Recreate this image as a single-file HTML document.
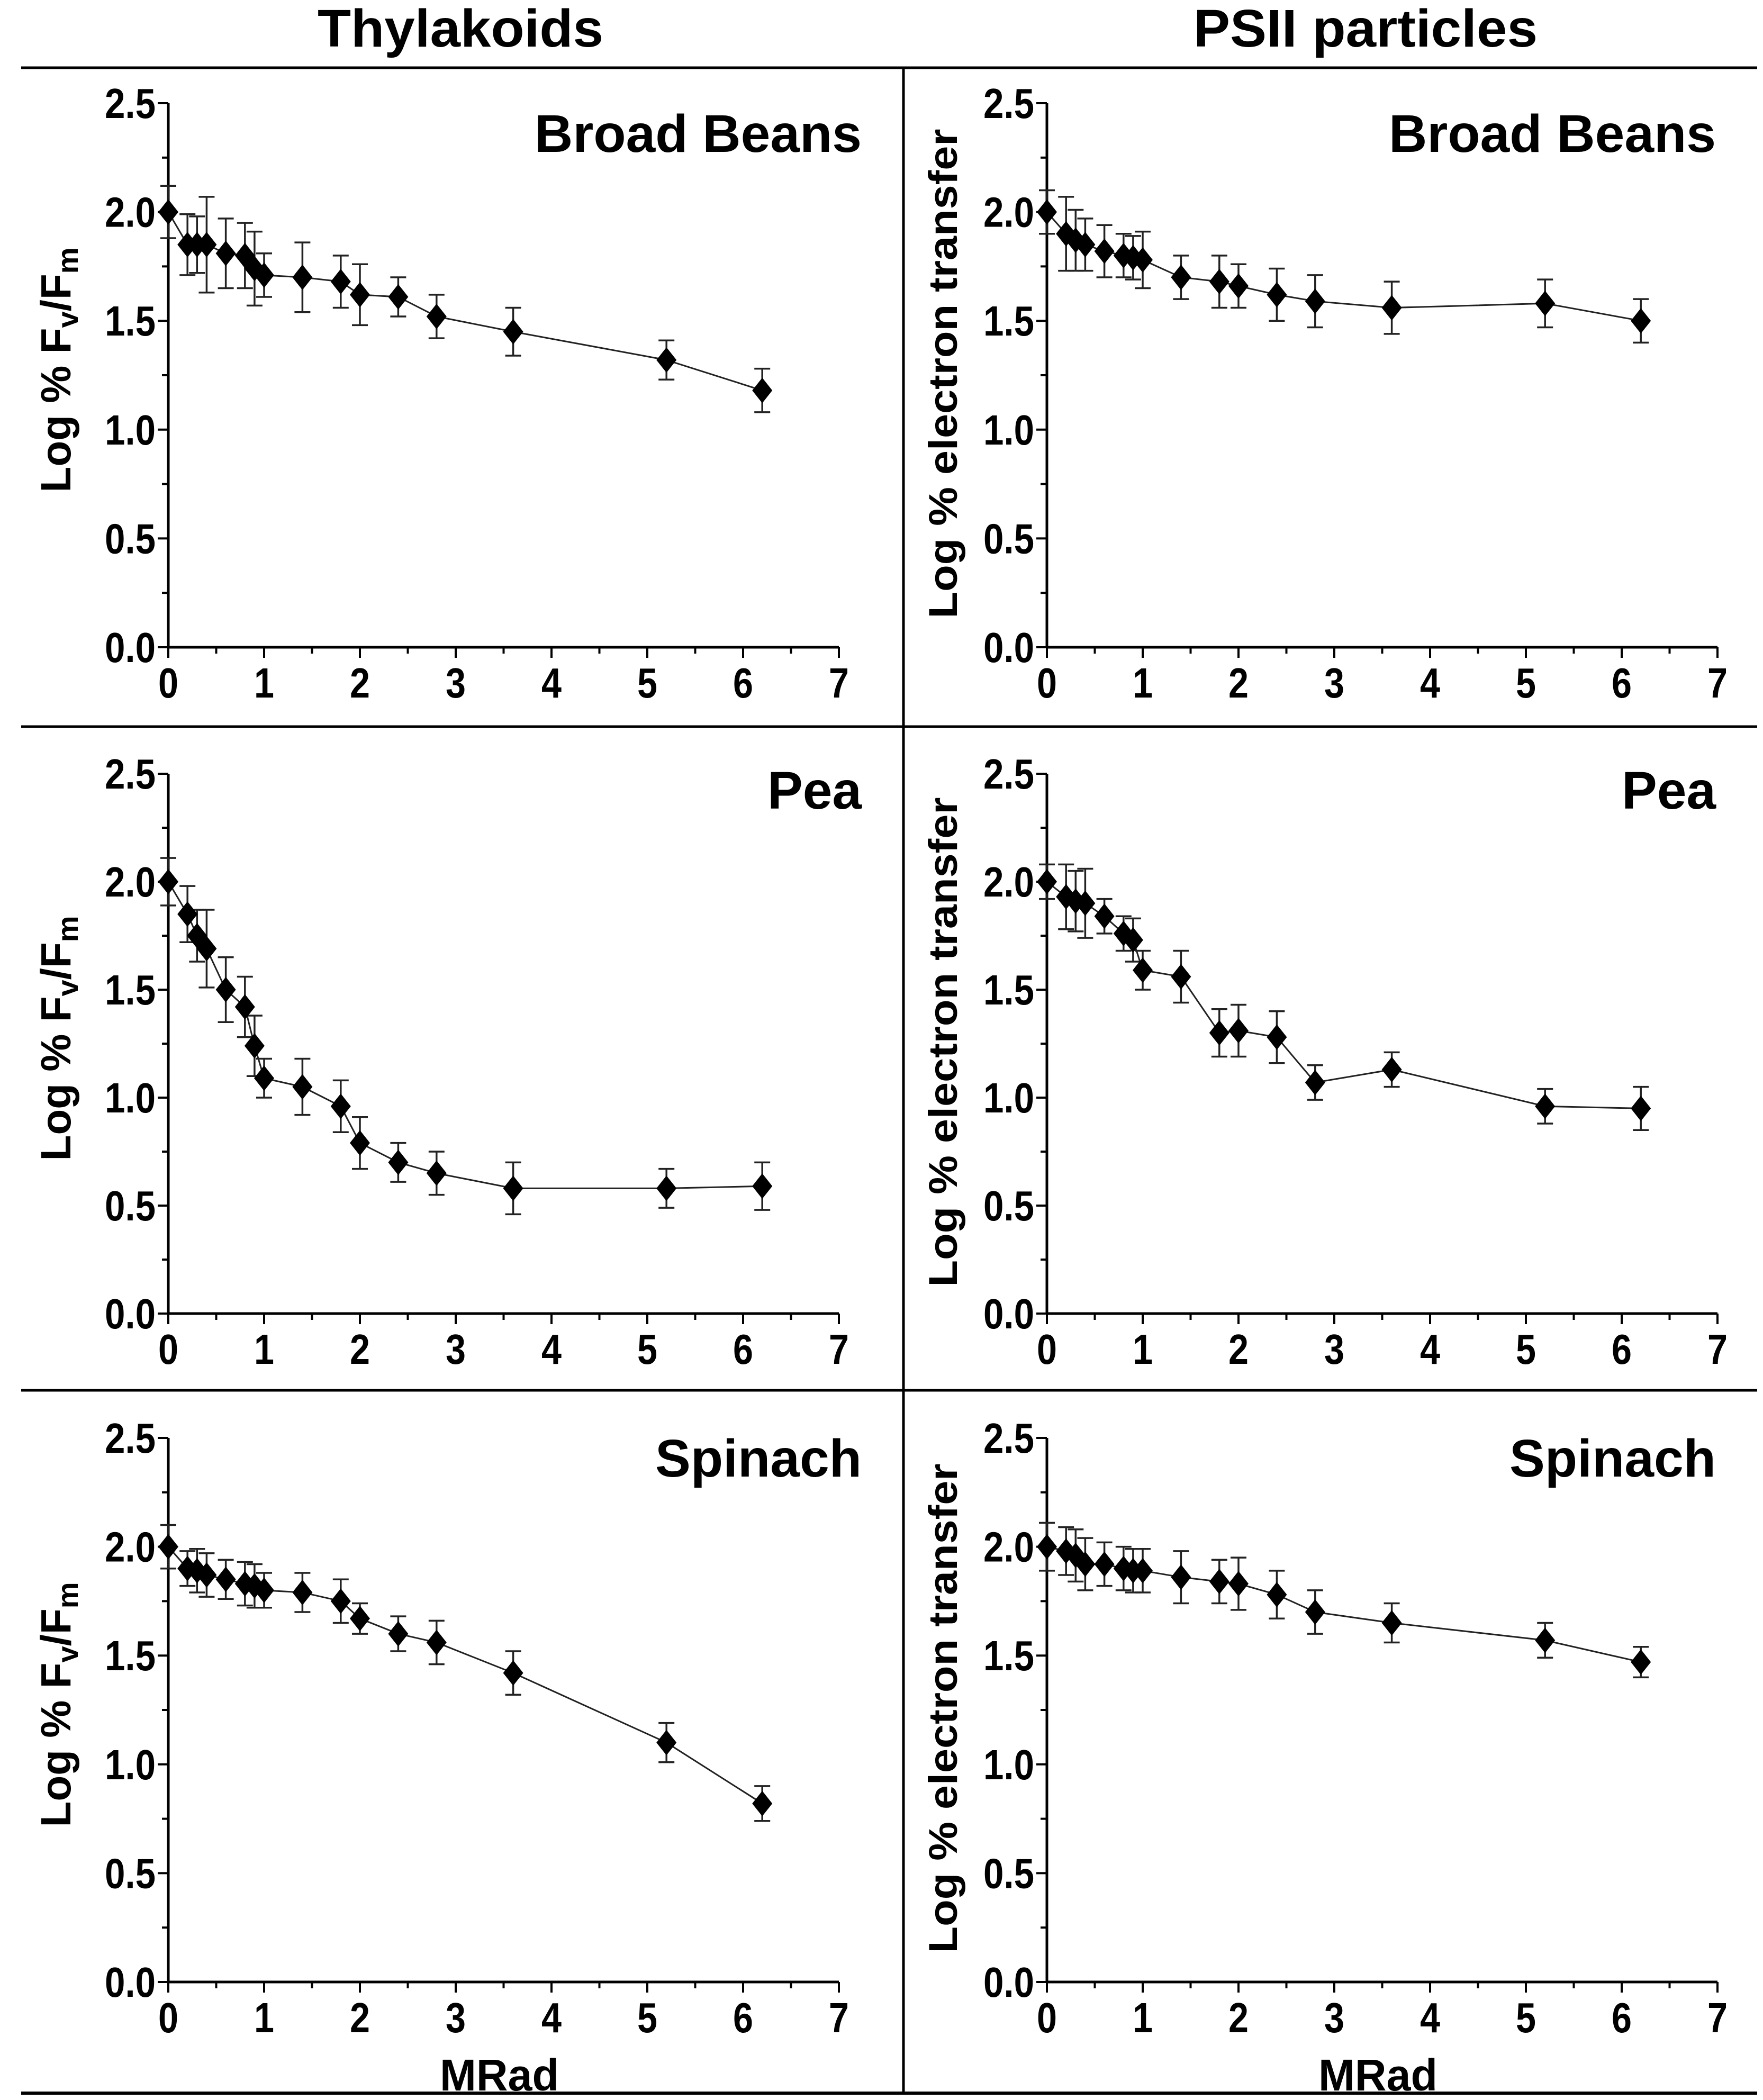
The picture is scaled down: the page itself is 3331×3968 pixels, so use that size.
<!DOCTYPE html>
<html><head><meta charset="utf-8"><style>
html,body{margin:0;padding:0;background:#fff;}
svg{display:block;font-family:"Liberation Sans",Arial,sans-serif;font-weight:bold;}
</style></head><body>
<svg id="fig" width="3331" height="3968" viewBox="0 0 3331 3968" xmlns="http://www.w3.org/2000/svg">
<rect width="3331" height="3968" fill="#fff"/>
<text x="870" y="88" font-size="100" text-anchor="middle" textLength="540" lengthAdjust="spacingAndGlyphs">Thylakoids</text>
<text x="2580" y="88" font-size="100" text-anchor="middle" textLength="650" lengthAdjust="spacingAndGlyphs">PSII particles</text>
<line x1="40" y1="128" x2="3320" y2="128" stroke="#000" stroke-width="5"/>
<line x1="40" y1="1373" x2="3320" y2="1373" stroke="#000" stroke-width="5"/>
<line x1="40" y1="2627" x2="3320" y2="2627" stroke="#000" stroke-width="5"/>
<line x1="40" y1="3955" x2="3320" y2="3955" stroke="#000" stroke-width="6"/>
<line x1="1707" y1="128" x2="1707" y2="3955" stroke="#000" stroke-width="5"/>
<g id="plots"></g>
</svg>
<script>
const doses = [0,0.2,0.3,0.4,0.6,0.8,0.9,1.0,1.4,1.8,2.0,2.4,2.8,3.6,5.2,6.2];
const xTicks = [0,1,2,3,4,5,6,7];
const yTicks = [0.0,0.5,1.0,1.5,2.0,2.5];
const yTickLabels = ["0.0","0.5","1.0","1.5","2.0","2.5"];
const thyBeanVals = [2.0,1.85,1.85,1.85,1.81,1.80,1.74,1.71,1.70,1.68,1.62,1.61,1.52,1.45,1.32,1.18];
const thyBeanErr  = [0.12,0.14,0.13,0.22,0.16,0.15,0.17,0.10,0.16,0.12,0.14,0.09,0.10,0.11,0.09,0.10];
const psiBeanVals = [2.0,1.90,1.87,1.85,1.82,1.80,1.79,1.78,1.70,1.68,1.66,1.62,1.59,1.56,1.58,1.50];
const psiBeanErr  = [0.10,0.17,0.14,0.12,0.12,0.10,0.10,0.13,0.10,0.12,0.10,0.12,0.12,0.12,0.11,0.10];
const thyPeaVals = [2.0,1.85,1.75,1.69,1.50,1.42,1.24,1.09,1.05,0.96,0.79,0.70,0.65,0.58,0.58,0.59];
const thyPeaErr  = [0.11,0.13,0.12,0.18,0.15,0.14,0.14,0.09,0.13,0.12,0.12,0.09,0.10,0.12,0.09,0.11];
const psiPeaVals = [2.0,1.93,1.91,1.90,1.84,1.76,1.73,1.59,1.56,1.30,1.31,1.28,1.07,1.13,0.96,0.95];
const psiPeaErr  = [0.08,0.15,0.14,0.16,0.08,0.08,0.10,0.09,0.12,0.11,0.12,0.12,0.08,0.08,0.08,0.10];
const thySpinVals = [2.0,1.90,1.89,1.87,1.85,1.83,1.82,1.80,1.79,1.75,1.67,1.60,1.56,1.42,1.10,0.82];
const thySpinErr  = [0.10,0.08,0.10,0.10,0.09,0.10,0.10,0.08,0.09,0.10,0.07,0.08,0.10,0.10,0.09,0.08];
const psiSpinVals = [2.0,1.98,1.96,1.92,1.92,1.90,1.89,1.89,1.86,1.84,1.83,1.78,1.70,1.65,1.57,1.47];
const psiSpinErr  = [0.11,0.11,0.12,0.12,0.10,0.10,0.10,0.10,0.12,0.10,0.12,0.11,0.10,0.09,0.08,0.07];

const NS="http://www.w3.org/2000/svg";
const root=document.getElementById('plots');
function mk(tag,attrs,parent){const e=document.createElementNS(NS,tag);for(const k in attrs)e.setAttribute(k,attrs[k]);(parent||root).appendChild(e);return e;}

const panels=[
 {id:'thylakoids-broad-beans',label:'Broad Beans',col:0,row:0,vals:thyBeanVals,err:thyBeanErr},
 {id:'psii-broad-beans',label:'Broad Beans',col:1,row:0,vals:psiBeanVals,err:psiBeanErr},
 {id:'thylakoids-pea',label:'Pea',col:0,row:1,vals:thyPeaVals,err:thyPeaErr},
 {id:'psii-pea',label:'Pea',col:1,row:1,vals:psiPeaVals,err:psiPeaErr},
 {id:'thylakoids-spinach',label:'Spinach',col:0,row:2,vals:thySpinVals,err:thySpinErr},
 {id:'psii-spinach',label:'Spinach',col:1,row:2,vals:psiSpinVals,err:psiSpinErr}
];
const cols=[{x0:318,x1:1585,labelR:1628},{x0:1978,x1:3245,labelR:3242}];
const rows=[{top:195,bot:1223,lab:287},{top:1462,bot:2482,lab:1528},{top:2717,bot:3745,lab:2790}];
const labelW={'Broad Beans':618,'Pea':178,'Spinach':390};

panels.forEach(p=>{
 const c=cols[p.col], r=rows[p.row];
 const sx=v=>c.x0+(v/7)*(c.x1-c.x0);
 const sy=v=>r.bot-(v/2.5)*(r.bot-r.top);
 const g=mk('g',{});
 
 
 const ya=mk('line',{x1:c.x0,y1:r.top,x2:c.x0,y2:r.bot+2,stroke:'#000','stroke-width':5},g);
 
 
 const xa=mk('line',{x1:c.x0-2,y1:r.bot,x2:c.x1,y2:r.bot,stroke:'#000','stroke-width':5},g);
 
 
 for(let v=0;v<=2.5001;v+=0.25){
   const major=Math.abs(v*2-Math.round(v*2))<1e-6;
   mk('line',{x1:c.x0-(major?20:12),y1:sy(v),x2:c.x0,y2:sy(v),stroke:'#000','stroke-width':4},g);
 }
 yTicks.forEach((v,i)=>{
   const t=mk('text',{x:c.x0-24,y:sy(v)+28,'font-size':80,'text-anchor':'end',textLength:96,lengthAdjust:'spacingAndGlyphs'},g);
   t.textContent=yTickLabels[i];
   
   
 });
 for(let v=0;v<=7.0001;v+=0.5){
   const major=Math.abs(v-Math.round(v))<1e-6;
   mk('line',{x1:sx(v),y1:r.bot,x2:sx(v),y2:r.bot+(major?20:12),stroke:'#000','stroke-width':4},g);
 }
 xTicks.forEach(v=>{
   const t=mk('text',{x:sx(v),y:r.bot+95,'font-size':80,'text-anchor':'middle',textLength:38,lengthAdjust:'spacingAndGlyphs'},g);
   t.textContent=String(v);
   
   
 });
 const pl=mk('text',{x:c.labelR,y:r.lab,'font-size':100,'text-anchor':'end',textLength:labelW[p.label],lengthAdjust:'spacingAndGlyphs'},g);
 pl.textContent=p.label;
 
 
 const cy=(r.top+r.bot)/2;
 if(p.col===0){
   const yt=mk('text',{x:0,y:0,'font-size':80,'text-anchor':'middle',transform:`translate(133 ${cy-10}) rotate(-90)`},g);
   
   
   yt.innerHTML='Log % F<tspan font-size="56" dy="14">v</tspan><tspan dy="-14">/F</tspan><tspan font-size="56" dy="14">m</tspan>';
 } else {
   const yt=mk('text',{x:0,y:0,'font-size':76,'text-anchor':'middle',textLength:925,lengthAdjust:'spacingAndGlyphs',transform:`translate(1808 ${cy-3}) rotate(-90)`},g);
   yt.textContent='Log % electron transfer';
   
   
 }
 if(p.row===2){
   const xt=mk('text',{x:(c.x0+c.x1)/2-8,y:3950,'font-size':84,'text-anchor':'middle',textLength:225,lengthAdjust:'spacingAndGlyphs'},g);
   xt.textContent='MRad';
   
   
 }
 const pts=doses.map((d,i)=>sx(d)+','+sy(p.vals[i])).join(' ');
 const ln=mk('polyline',{points:pts,fill:'none',stroke:'#222','stroke-width':3},g);
 
 
 doses.forEach((d,i)=>{
   const x=sx(d), yh=sy(p.vals[i]+p.err[i]), yl=sy(p.vals[i]-p.err[i]);
   const eb=mk('path',{d:`M${x},${yh}V${yl}M${x-15},${yh}H${x+15}M${x-15},${yl}H${x+15}`,stroke:'#222','stroke-width':3.5,fill:'none'},g);
   
   
 });
 doses.forEach((d,i)=>{
   const x=sx(d), y=sy(p.vals[i]);
   const m=mk('path',{d:`M${x},${y-24}L${x+19},${y}L${x},${y+24}L${x-19},${y}Z`,fill:'#000'},g);
   
   
 });
});
</script>
</body></html>
